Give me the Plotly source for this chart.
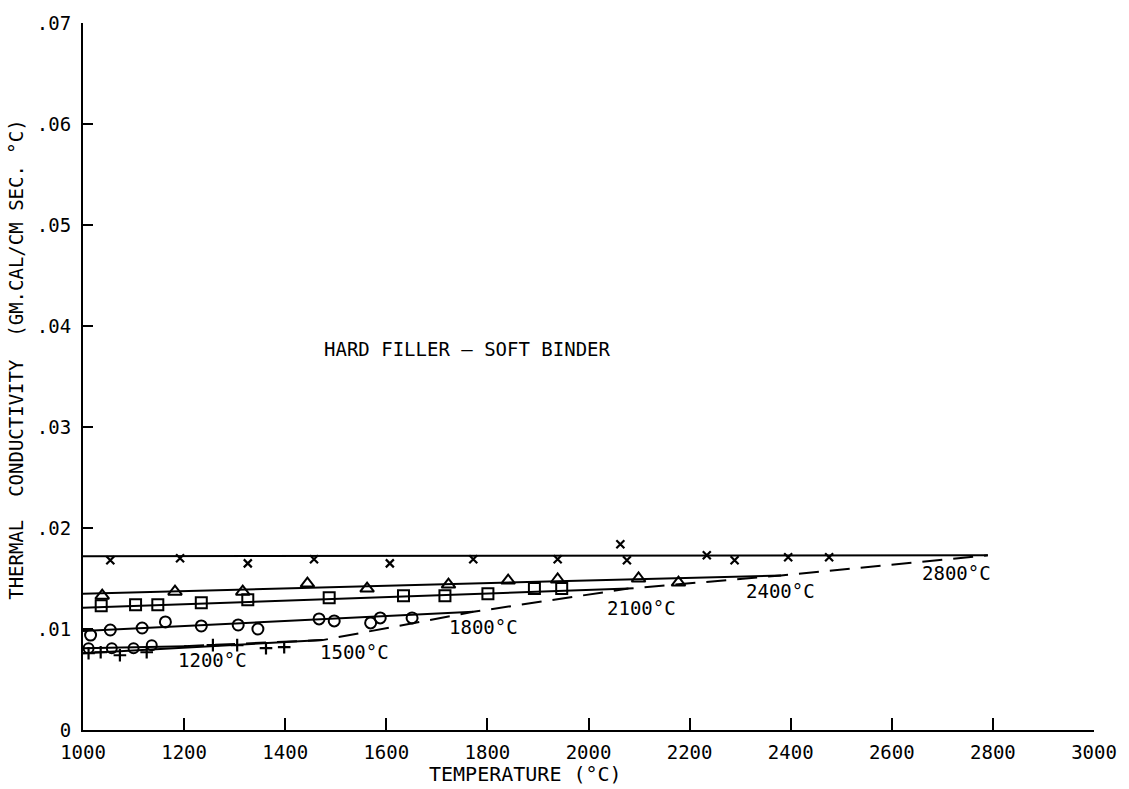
import plotly.graph_objects as go

# ---- data ----
x_T = [1054, 1192, 1326, 1457, 1607, 1772, 1939, 2063, 2076, 2234, 2289, 2395, 2476]
x_k = [0.0168, 0.0170, 0.0165, 0.0169, 0.0165, 0.0169, 0.0169, 0.0184, 0.0168, 0.0173, 0.0168, 0.0171, 0.0171]
x_fit_T = [1000, 2790]
x_fit_k = [0.0172, 0.0173]

tri_T = [1038, 1182, 1316, 1444, 1562, 1723, 1841, 1939, 2099, 2178]
tri_k = [0.0133, 0.0137, 0.0137, 0.0145, 0.0140, 0.0144, 0.0148, 0.0149, 0.0150, 0.0146]
tri_fit_T = [1000, 2381]
tri_fit_k = [0.0135, 0.0153]

sq_T = [1036, 1104, 1148, 1234, 1326, 1487, 1634, 1716, 1801, 1893, 1947]
sq_k = [0.0123, 0.0124, 0.0124, 0.0126, 0.0129, 0.0131, 0.0133, 0.0133, 0.0135, 0.0140, 0.0140]
sq_fit_T = [1000, 2079]
sq_fit_k = [0.0121, 0.0140]

ci_T = [1015, 1054, 1117, 1163, 1234, 1307, 1346, 1467, 1497, 1569, 1588, 1651]
ci_k = [0.0094, 0.0099, 0.0101, 0.0107, 0.0103, 0.0104, 0.0100, 0.0110, 0.0108, 0.0106, 0.0111, 0.0111]
ci_fit_T = [1000, 1772]
ci_fit_k = [0.0098, 0.0117]

pl_T = [1011, 1035, 1073, 1126, 1257, 1305, 1362, 1398]
pl_k = [0.0076, 0.0077, 0.0074, 0.0077, 0.0084, 0.0084, 0.0081, 0.0082]
pl_fit_T = [1000, 1474]
pl_fit_k = [0.0076, 0.0089]

sc_T = [1011, 1057, 1100, 1136]
sc_k = [0.0081, 0.0081, 0.0081, 0.0084]
sc_fit_T = [1000, 1205]
sc_fit_k = [0.0081, 0.0083]

env_T = [1200, 1474, 1772, 2079, 2381, 2790]
env_k = [0.0083, 0.0089, 0.0117, 0.0140, 0.0153, 0.0173]

label_text = ["1200°C", "1500°C", "1800°C", "2100°C", "2400°C", "2800°C"]
label_T = [1257, 1537, 1792, 2105, 2380, 2728]
label_k = [0.0069, 0.0077, 0.0102, 0.0121, 0.0138, 0.0155]

x_ticks = list(range(1000, 3001, 200))
y_ticks = [0, 0.01, 0.02, 0.03, 0.04, 0.05, 0.06, 0.07]
y_ticktext = ["0", ".01", ".02", ".03", ".04", ".05", ".06", ".07"]

FONT = "DejaVu Sans Mono"
fig = go.Figure()

def line(T, k, dash="solid"):
    fig.add_trace(go.Scatter(x=T, y=k, mode="lines", line=dict(color="black", width=2, dash=dash),
                             showlegend=False, hoverinfo="skip"))

def pts(T, k, symbol, size, lw=1.8):
    fig.add_trace(go.Scatter(x=T, y=k, mode="markers",
                             marker=dict(symbol=symbol, size=size, color="black",
                                         line=dict(color="black", width=lw)),
                             showlegend=False))

for T, k in [(x_fit_T, x_fit_k), (tri_fit_T, tri_fit_k), (sq_fit_T, sq_fit_k),
             (ci_fit_T, ci_fit_k), (pl_fit_T, pl_fit_k), (sc_fit_T, sc_fit_k)]:
    line(T, k)
line(env_T, env_k, dash="20px,11px")

pts(x_T, x_k, "x-thin-open", 8, 2.2)
pts(tri_T, tri_k, "triangle-up-open", 12, 2)
pts(sq_T, sq_k, "square-open", 11, 2)
pts(ci_T, ci_k, "circle-open", 11, 2)
pts(pl_T, pl_k, "cross-thin-open", 9, 2.2)
pts(sc_T, sc_k, "circle-open", 10, 2)

for t, T, k in zip(label_text, label_T, label_k):
    fig.add_annotation(x=T, y=k, text=t, showarrow=False, xref="x", yref="y",
                       font=dict(family=FONT, size=19, color="black"))

fig.add_annotation(x=1761, y=0.0377, text="HARD FILLER \u2013 SOFT BINDER", showarrow=False,
                   font=dict(family=FONT, size=19, color="black"))
fig.add_annotation(x=1876, y=-0.062, xref="x", yref="paper", yanchor="middle", xanchor="center",
                   text="TEMPERATURE (°C)",
                   showarrow=False, font=dict(family=FONT, size=20, color="black"))
fig.add_annotation(x=-0.067, y=0.524, xref="paper", yref="paper", textangle=-90,
                   xanchor="center", yanchor="middle",
                   text="THERMAL  CONDUCTIVITY  (GM.CAL/CM SEC. °C)",
                   showarrow=False, font=dict(family=FONT, size=19, color="black"))

fig.update_xaxes(range=[1000, 3000], tickvals=x_ticks, ticks="inside", ticklen=12, tickwidth=2,
                 tickcolor="black", showline=True, linewidth=2, linecolor="black",
                 showgrid=False, zeroline=False, ticklabelstandoff=4,
                 tickfont=dict(family=FONT, size=19, color="black"))
fig.update_yaxes(range=[0, 0.07], tickvals=y_ticks, ticktext=y_ticktext, ticks="inside",
                 ticklen=10, tickwidth=2, tickcolor="black", showline=True, linewidth=2,
                 linecolor="black", showgrid=False, zeroline=False, ticklabelstandoff=6,
                 tickfont=dict(family=FONT, size=19, color="black"))

fig.update_layout(width=1129, height=789, margin=dict(l=83, r=35, t=20, b=59),
                  plot_bgcolor="white", paper_bgcolor="white", showlegend=False)

fig.write_html("out.html")
